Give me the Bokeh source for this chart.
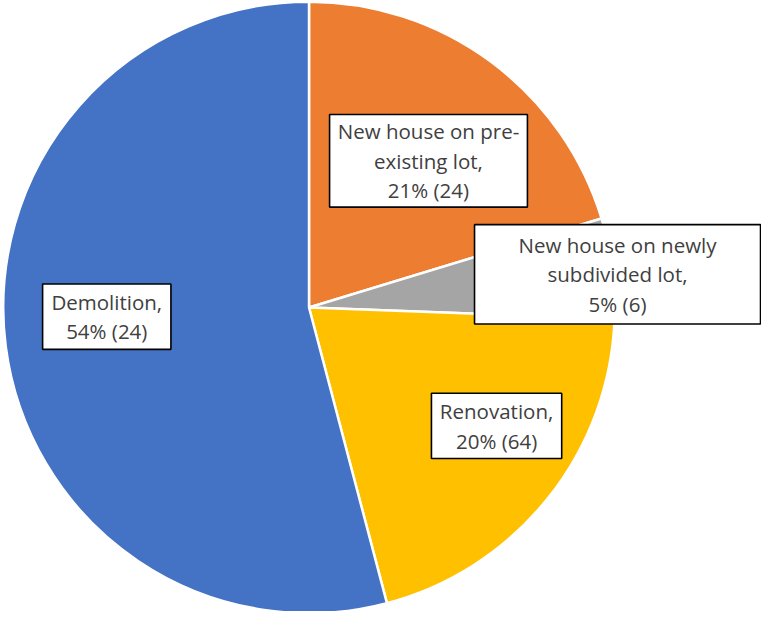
import math
from bokeh.plotting import figure
from bokeh.models import ColumnDataSource, Range1d
from bokeh.core.properties import value
from bokeh.embed import file_html
from bokeh.resources import INLINE

# ---- data ----
categories = ["New house on pre-existing lot", "New house on newly subdivided lot", "Renovation", "Demolition"]
shares = [20.3, 5.3, 20.3, 54.1]
label_texts = ["New house on pre-\nexisting lot,\n21% (24)",
               "New house on newly\nsubdivided lot,\n5% (6)",
               "Renovation,\n20% (64)",
               "Demolition,\n54% (24)"]
colors = ["#ED7D31", "#A5A5A5", "#FFC000", "#4472C4"]

# ---- layout: reference design is 777x627, scaled to fit the 761x611 area ----
W, H = 761, 611
SX, SY = W / 777, H / 627
S = (SX + SY) / 2
CX, CY, R = 315 * SX, 315 * SY, 313 * S
box_cx = [v * SX for v in [437, 630, 506.5, 108.5]]
box_cy = [v * SY for v in [164.5, 281, 436.5, 324.5]]
box_w = [v * SX for v in [202, 292, 133, 131]]
box_h = [v * SY for v in [95, 102, 67, 67]]

total = sum(shares)
starts, ends = [], []
cum = 0.0
for s in shares:
    starts.append(math.pi / 2 - 2 * math.pi * cum / total)
    cum += s
    ends.append(math.pi / 2 - 2 * math.pi * cum / total)

wsrc = ColumnDataSource(dict(x=[CX] * 4, y=[H - CY] * 4, start=starts, end=ends,
                             color=colors, cat=categories))
lsrc = ColumnDataSource(dict(x=box_cx, y=[H - v for v in box_cy], w=box_w, h=box_h,
                             text=label_texts))

p = figure(width=W, height=H, x_range=Range1d(0, W), y_range=Range1d(0, H),
           output_backend="svg", toolbar_location=None, min_border=0,
           outline_line_color=None, background_fill_color="white", border_fill_color="white")
p.axis.visible = False
p.grid.visible = False

p.wedge(x="x", y="y", radius=R, radius_units="screen", start_angle="start", end_angle="end",
        direction="clock", fill_color="color", line_color="white", line_width=2.5, source=wsrc)

p.rect(x="x", y="y", width="w", height="h", width_units="screen", height_units="screen",
       fill_color="white", line_color="black", line_width=1.6, source=lsrc)
p.text(x="x", y="y", text="text", text_align="center", text_baseline="middle",
       text_font=value("Open Sans"), text_font_size="20.5px", text_color="#404040",
       text_line_height=1.05, source=lsrc)

open("out.html", "w").write(file_html(p, INLINE))
